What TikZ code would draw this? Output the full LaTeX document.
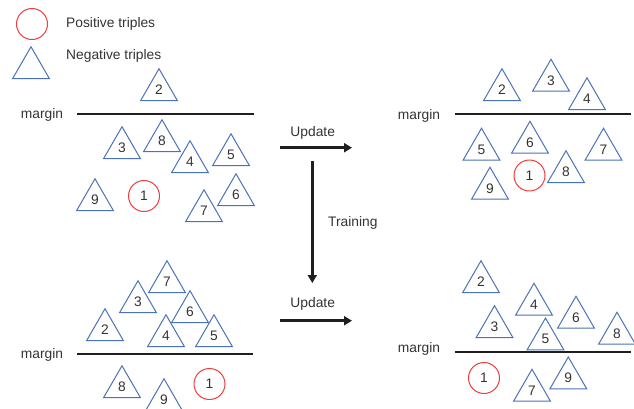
\documentclass[tikz,border=0pt]{standalone}
\usepackage{fontspec}
\setmainfont{Liberation Sans}
\usetikzlibrary{shapes.geometric,arrows.meta}
\definecolor{triblue}{HTML}{4A72B8}
\definecolor{posred}{HTML}{F03C3C}
\definecolor{txt}{HTML}{333333}
\begin{document}
\begin{tikzpicture}[x=1pt,y=-1pt,
  font=\fontsize{13.8}{16}\selectfont, text=txt,
  negtri/.style={regular polygon, regular polygon sides=3, draw=triblue, line width=1pt,
    minimum size=42.5pt, inner sep=0pt},
  poscirc/.style={circle, draw=posred, line width=1pt, minimum size=31pt, inner sep=0pt},
  marginline/.style={line width=2pt, black!88},
  arr/.style={line width=2.5pt, black!88, -{Triangle[length=8pt,width=9pt]}},
  lbl/.style={inner sep=0pt}]
\useasboundingbox (0,0) rectangle (634,408);
\clip (0,0) rectangle (634,408);

% legend
\node[poscirc] (lpos) at (32,24) {};
\node[negtri] (lneg) at (31,68) {};
\node[lbl, anchor=west] (lpost) at (66,24) {Positive triples};
\node[lbl, anchor=west] (lnegt) at (66,56) {Negative triples};

% ---- top-left
\node[lbl] (m1) at (42,115) {margin};
\coordinate (m1a) at (77,114);
\coordinate (m1b) at (254,114);
\draw[marginline] (m1a) -- (m1b);
\node[negtri] (a2) at (159,90) {2};
\node[negtri] (a3) at (122,148) {3};
\node[negtri] (a8) at (162,141) {8};
\node[negtri] (a4) at (190,162) {4};
\node[negtri] (a5) at (231,155) {5};
\node[negtri] (a9) at (95,200) {9};
\node[poscirc] (a1) at (144,196) {1};
\node[negtri] (a7) at (204,211) {7};
\node[negtri] (a6) at (236,195) {6};

% ---- bottom-left
\node[lbl] (m2) at (42,355) {margin};
\coordinate (m2a) at (77,354);
\coordinate (m2b) at (253,354);
\draw[marginline] (m2a) -- (m2b);
\node[negtri] (b7) at (167,282) {7};
\node[negtri] (b3) at (138,302) {3};
\node[negtri] (b6) at (190,312) {6};
\node[negtri] (b2) at (105,330) {2};
\node[negtri] (b4) at (166,336) {4};
\node[negtri] (b5) at (214,336) {5};
\node[negtri] (b8) at (122,387) {8};
\node[negtri] (b9) at (164,400) {9};
\node[poscirc] (b1) at (209.5,384) {1};

% ---- top-right
\node[lbl] (m3) at (419,115.5) {margin};
\coordinate (m3a) at (455,114);
\coordinate (m3b) at (631,114);
\draw[marginline] (m3a) -- (m3b);
\node[negtri] (c2) at (502,90) {2};
\node[negtri] (c3) at (551,80.5) {3};
\node[negtri] (c4) at (587,99) {4};
\node[negtri] (c5) at (481.5,149.5) {5};
\node[negtri] (c6) at (530,142.5) {6};
\node[negtri] (c7) at (603.5,149.5) {7};
\node[negtri] (c9) at (490,188.5) {9};
\node[poscirc] (c1) at (529.5,175.5) {1};
\node[negtri] (c8) at (566,172) {8};

% ---- bottom-right
\node[lbl] (m4) at (419,348.5) {margin};
\coordinate (m4a) at (455,352);
\coordinate (m4b) at (631,352);
\draw[marginline] (m4a) -- (m4b);
\node[negtri] (d2) at (481,282) {2};
\node[negtri] (d4) at (534,304.5) {4};
\node[negtri] (d6) at (576,317.5) {6};
\node[negtri] (d3) at (494.5,327) {3};
\node[negtri] (d8) at (617,333.5) {8};
\node[negtri] (d5) at (545.5,339.3) {5};
\node[poscirc] (d1) at (484,378) {1};
\node[negtri] (d7) at (532,390.5) {7};
\node[negtri] (d9) at (568.3,378.2) {9};

% ---- arrows
\coordinate (u1s) at (280,147.7);
\coordinate (u1e) at (352,147.7);
\draw[arr] (u1s) -- (u1e);
\node[lbl] (u1t) at (312.7,132.7) {Update};

\coordinate (trs) at (312.3,160.7);
\coordinate (tre) at (312.3,283);
\draw[arr] (trs) -- (tre);
\node[lbl, anchor=west] (trt) at (328,223.3) {Training};

\coordinate (u2s) at (280,320.7);
\coordinate (u2e) at (352,320.7);
\draw[arr] (u2s) -- (u2e);
\node[lbl] (u2t) at (312.7,304.3) {Update};
\end{tikzpicture}
\end{document}
